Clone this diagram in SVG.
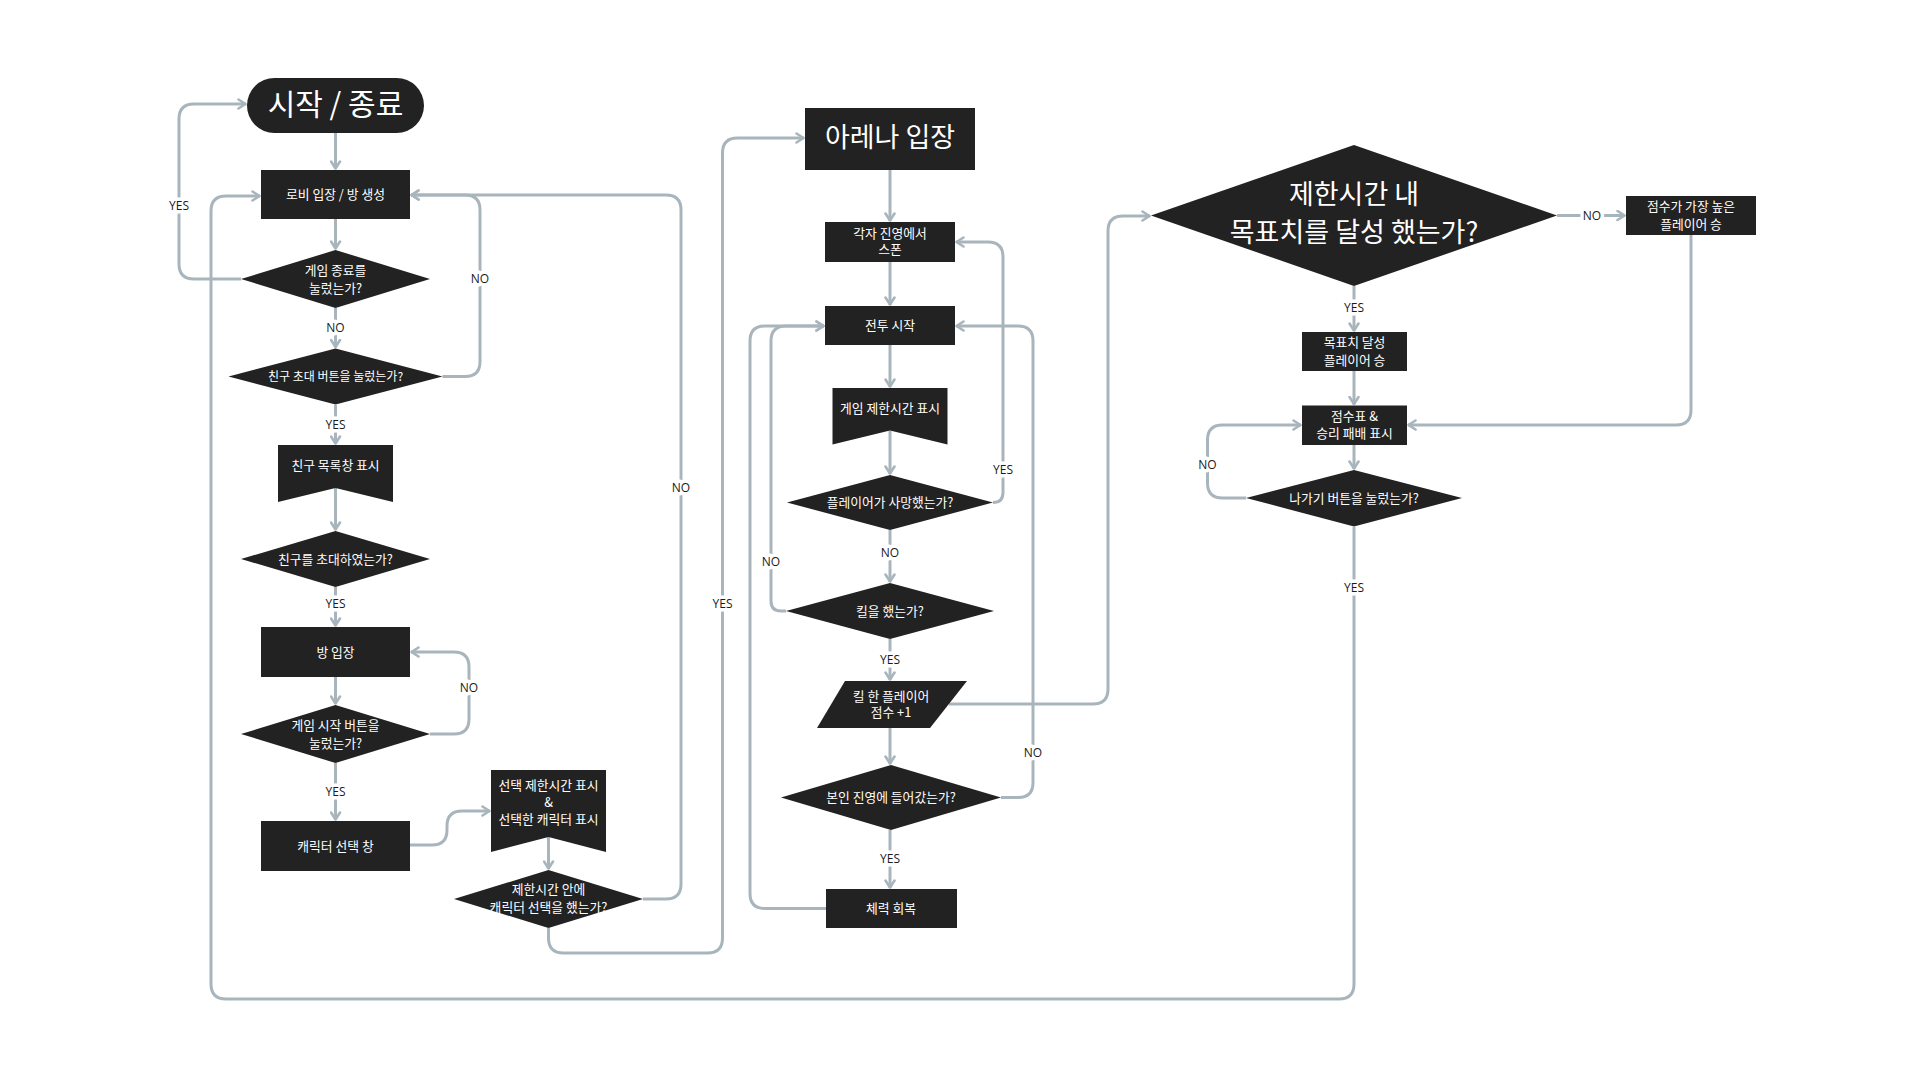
<svg xmlns="http://www.w3.org/2000/svg" width="1920" height="1080" viewBox="0 0 1920 1080">
<defs>
<style>
.n{fill:#222222;}
.t{fill:#ffffff;font-family:"Noto Sans CJK KR","Noto Sans",sans-serif;font-size:12.8px;text-anchor:middle;dominant-baseline:central;}
.big{font-size:27px;}
.c{fill:none;stroke:#a9b5bd;stroke-width:3;}
.a{marker-end:url(#arr);}
.l{fill:#1a1a1a;font-family:"Open Sans","Noto Sans",sans-serif;font-size:12px;text-anchor:middle;dominant-baseline:central;stroke:#ffffff;stroke-width:7;paint-order:stroke;stroke-linejoin:round;}
</style>
<marker id="arr" viewBox="0 0 10 12" refX="9" refY="6" markerWidth="10" markerHeight="12" orient="auto" markerUnits="userSpaceOnUse">
<path d="M1.5,1.5 L8.5,6 L1.5,10.5" fill="none" stroke="#a9b5bd" stroke-width="2.6" stroke-linecap="round" stroke-linejoin="round"/>
</marker>
</defs>
<rect width="1920" height="1080" fill="#ffffff"/>

<g id="connectors">
<path class="c a" d="M335.5,133 V169"/>
<path class="c a" d="M335.5,219 V249"/>
<path class="c a" d="M335.5,308 V347.5"/>
<path class="c a" d="M241,279 H194 Q179,279 179,264 V119 Q179,104 194,104 H246"/>
<path class="c a" d="M442.5,376.5 H465 Q480,376.5 480,361.5 V210 Q480,195 465,195 H411"/>
<path class="c a" d="M643,899 H666 Q681,899 681,884 V210 Q681,195 666,195 H411"/>
<path class="c a" d="M335.5,405 V444"/>
<path class="c a" d="M335.5,488 V530"/>
<path class="c a" d="M335.5,587 V626"/>
<path class="c a" d="M335.5,677 V704"/>
<path class="c a" d="M430,734 H454 Q469,734 469,719 V667 Q469,652 454,652 H411"/>
<path class="c a" d="M335.5,763 V820"/>
<path class="c a" d="M410,845 H432 Q447,845 447,830 V826 Q447,811 462,811 H490"/>
<path class="c a" d="M548.5,837 V869"/>
<path class="c a" d="M548.5,928 V938 Q548.5,953 563.5,953 H707.5 Q722.5,953 722.5,938 V153 Q722.5,138 737.5,138 H804"/>
<path class="c a" d="M1354,527 V984 Q1354,999 1339,999 H226 Q211,999 211,984 V211 Q211,196 226,196 H260"/>

<path class="c a" d="M890,170 V221"/>
<path class="c a" d="M890,262 V305"/>
<path class="c a" d="M890,345 V387"/>
<path class="c a" d="M890,430.5 V474"/>
<path class="c a" d="M993,502.5 Q1003,502.5 1003,492.5 V257 Q1003,242 988,242 H956"/>
<path class="c a" d="M890,530 V582"/>
<path class="c a" d="M786,611 H781 Q771,611 771,601 V341 Q771,326 786,326 H824"/>
<path class="c a" d="M890,639 V680"/>
<path class="c a" d="M949,704 H1093 Q1108,704 1108,689 V231 Q1108,216 1123,216 H1150"/>
<path class="c a" d="M890,728 V764"/>
<path class="c a" d="M1001,797.5 H1018 Q1033,797.5 1033,782.5 V341 Q1033,326 1018,326 H956"/>
<path class="c a" d="M890,830 V888"/>
<path class="c a" d="M826,908.5 H765 Q750,908.5 750,893.5 V341 Q750,326 765,326 H824"/>

<path class="c a" d="M1557,215.5 H1625"/>
<path class="c a" d="M1691,235 V410 Q1691,425 1676,425 H1408"/>
<path class="c a" d="M1354,286 V331"/>
<path class="c a" d="M1354,371 V404.5"/>
<path class="c a" d="M1354,445 V469"/>
<path class="c a" d="M1246,498 H1222.5 Q1207.5,498 1207.5,483 V440 Q1207.5,425 1222.5,425 H1301"/>

<text class="l" x="179" y="205">YES</text>
<text class="l" x="335.5" y="327">NO</text>
<text class="l" x="480" y="278">NO</text>
<text class="l" x="335.5" y="424">YES</text>
<text class="l" x="335.5" y="603">YES</text>
<text class="l" x="469" y="687">NO</text>
<text class="l" x="335.5" y="791">YES</text>
<text class="l" x="681" y="487">NO</text>
<text class="l" x="722.5" y="603">YES</text>
<text class="l" x="1003" y="469">YES</text>
<text class="l" x="890" y="552">NO</text>
<text class="l" x="771" y="561">NO</text>
<text class="l" x="890" y="659">YES</text>
<text class="l" x="1033" y="752">NO</text>
<text class="l" x="890" y="858">YES</text>
<text class="l" x="1592" y="215.5">NO</text>
<text class="l" x="1354" y="307">YES</text>
<text class="l" x="1207.5" y="464">NO</text>
<text class="l" x="1354" y="587">YES</text>
</g>

<g id="start">
<rect class="n" x="247" y="78" width="177" height="55" rx="27.5"/>
<text class="t big" x="335.5" y="102" style="font-size:30px">시작 / 종료</text>
</g>
<g id="lobby">
<rect class="n" x="261" y="170" width="149" height="49"/>
<text class="t" x="335.5" y="193.5">로비 입장 / 방 생성</text>
</g>
<g id="d-quit">
<polygon class="n" points="335.5,250 430,279 335.5,308 241,279"/>
<text class="t" x="335.5" y="269.5">게임 종료를</text>
<text class="t" x="335.5" y="287.5">눌렀는가?</text>
</g>
<g id="d-invite-btn">
<polygon class="n" points="335.5,348.5 442.5,376.5 335.5,404.5 228.5,376.5"/>
<text class="t" x="335.5" y="375.5" style="font-size:12px">친구 초대 버튼을 눌렀는가?</text>
</g>
<g id="friend-list">
<polygon class="n" points="278,445 393,445 393,502 335.5,488 278,502"/>
<text class="t" x="335.5" y="464">친구 목록창 표시</text>
</g>
<g id="d-invited">
<polygon class="n" points="335.5,531 430,559 335.5,587 241,559"/>
<text class="t" x="335.5" y="558">친구를 초대하였는가?</text>
</g>
<g id="room">
<rect class="n" x="261" y="627" width="149" height="50"/>
<text class="t" x="335.5" y="651">방 입장</text>
</g>
<g id="d-start-btn">
<polygon class="n" points="335.5,705 430,734 335.5,763 241,734"/>
<text class="t" x="335.5" y="724">게임 시작 버튼을</text>
<text class="t" x="335.5" y="742">눌렀는가?</text>
</g>
<g id="char-select">
<rect class="n" x="261" y="821" width="149" height="50"/>
<text class="t" x="335.5" y="845">캐릭터 선택 창</text>
</g>
<g id="select-display">
<polygon class="n" points="491,770 606,770 606,852 548.5,837 491,852"/>
<text class="t" x="548.5" y="784">선택 제한시간 표시</text>
<text class="t" x="548.5" y="801">&amp;</text>
<text class="t" x="548.5" y="818">선택한 캐릭터 표시</text>
</g>
<g id="d-select-time">
<polygon class="n" points="548.5,870 643,899 548.5,928 454,899"/>
<text class="t" x="548.5" y="888">제한시간 안에</text>
<text class="t" x="548.5" y="906">캐릭터 선택을 했는가?</text>
</g>

<g id="arena">
<rect class="n" x="805" y="108" width="170" height="62"/>
<text class="t big" x="890" y="135.5">아레나 입장</text>
</g>
<g id="spawn">
<rect class="n" x="825" y="222" width="130" height="40"/>
<text class="t" x="890" y="232.5">각자 진영에서</text>
<text class="t" x="890" y="248.5">스폰</text>
</g>
<g id="battle">
<rect class="n" x="825" y="306" width="130" height="39"/>
<text class="t" x="890" y="324.5">전투 시작</text>
</g>
<g id="time-display">
<polygon class="n" points="832.5,388 947.5,388 947.5,444.5 890,430.5 832.5,444.5"/>
<text class="t" x="890" y="407">게임 제한시간 표시</text>
</g>
<g id="d-dead">
<polygon class="n" points="890,475 993,502.5 890,530 787,502.5"/>
<text class="t" x="890" y="501.5">플레이어가 사망했는가?</text>
</g>
<g id="d-kill">
<polygon class="n" points="890,583 994,611 890,639 786,611"/>
<text class="t" x="890" y="610">킬을 했는가?</text>
</g>
<g id="score-plus">
<polygon class="n" points="845,681 967,681 930,728 817,728"/>
<text class="t" x="891" y="695">킬 한 플레이어</text>
<text class="t" x="891" y="711.5">점수 +1</text>
</g>
<g id="d-base">
<polygon class="n" points="891,765 1001,797.5 891,830 781,797.5"/>
<text class="t" x="891" y="796.5">본인 진영에 들어갔는가?</text>
</g>
<g id="heal">
<rect class="n" x="826" y="889" width="131" height="39"/>
<text class="t" x="891" y="907.5">체력 회복</text>
</g>

<g id="d-goal">
<polygon class="n" points="1354,145 1557,215.5 1354,286 1151,215.5"/>
<text class="t big" x="1354" y="192">제한시간 내</text>
<text class="t big" x="1354" y="230">목표치를 달성 했는가?</text>
</g>
<g id="top-score-win">
<rect class="n" x="1626" y="196" width="130" height="39"/>
<text class="t" x="1691" y="205.5">점수가 가장 높은</text>
<text class="t" x="1691" y="223.5">플레이어 승</text>
</g>
<g id="goal-win">
<rect class="n" x="1302" y="332" width="105" height="39"/>
<text class="t" x="1354.5" y="341.5">목표치 달성</text>
<text class="t" x="1354.5" y="359">플레이어 승</text>
</g>
<g id="scoreboard">
<rect class="n" x="1302" y="405.5" width="105" height="39.5"/>
<text class="t" x="1354.5" y="415">점수표 &amp;</text>
<text class="t" x="1354.5" y="432.5">승리 패배 표시</text>
</g>
<g id="d-exit">
<polygon class="n" points="1354,470 1462,498 1354,526.5 1246,498"/>
<text class="t" x="1354" y="497">나가기 버튼을 눌렀는가?</text>
</g>
</svg>
